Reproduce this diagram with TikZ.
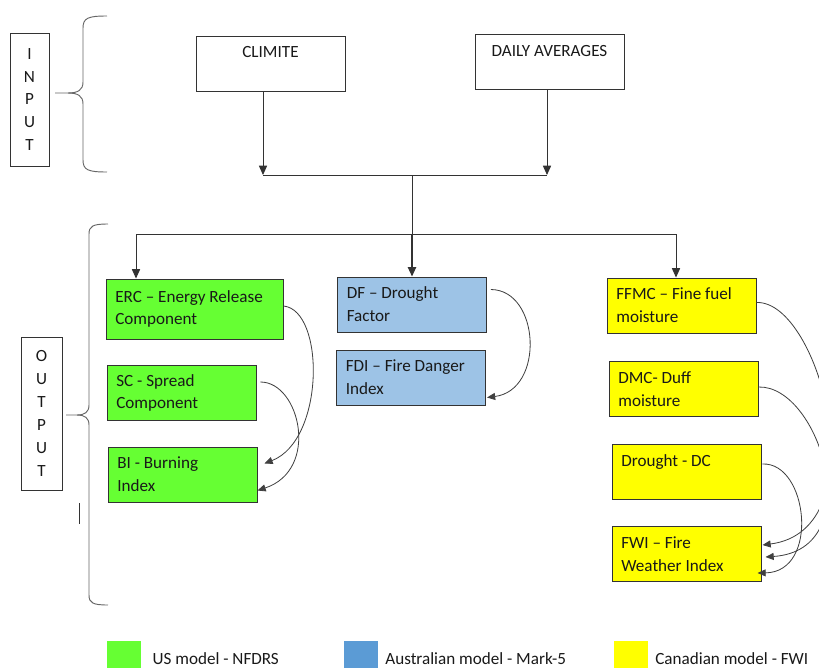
\documentclass[tikz,border=0pt]{standalone}
\usepackage{fontspec}
\setmainfont{Carlito}
\usepackage{xcolor}
\usepackage{tikz}
\usetikzlibrary{arrows.meta}
\usetikzlibrary{positioning}

\definecolor{usgreen}{HTML}{66FF33}
\definecolor{aublue}{HTML}{9DC3E6}
\definecolor{aukey}{HTML}{5B9BD5}
\definecolor{cayellow}{HTML}{FFFF00}
\definecolor{feedgray}{HTML}{404040}

\begin{document}
\begin{tikzpicture}[
    x=0.03cm, y=-0.03cm,
    every node/.style={font=\fontsize{14.6}{19.5}\selectfont, text=black!90},
    box/.style={rectangle, draw=black!80, line width=0.8pt, minimum width=4.47cm,
      minimum height=1.65cm, text width=3.91cm, inner xsep=0.28cm, inner ysep=0pt, align=flush left},
    headbox/.style={box, align=flush center},
    sidebox/.style={rectangle, draw=black!80, line width=0.8pt, align=center, inner sep=0pt},
    usbox/.style={box, fill=usgreen},
    aubox/.style={box, fill=aublue},
    cabox/.style={box, fill=cayellow},
    link/.style={draw=black!80, line width=0.8pt},
    arr/.style={link, -{Triangle[length=8pt, width=7pt]}},
    feed/.style={draw=feedgray, line width=0.7pt, -{Triangle[length=7pt, width=6pt]}},
    brace/.style={draw=black!60, line width=0.8pt},
    key/.style={rectangle, minimum width=1.02cm, minimum height=1.02cm, inner sep=0pt, anchor=north west},
    key text/.style={inner xsep=0pt},
  ]

  \clip (0,0) rectangle (819,667);

  % side labels
  \node[sidebox, minimum width=1.17cm, minimum height=3.99cm] (input) at (29.5,99.5) {I\\N\\P\\U\\T};
  \node[sidebox, minimum width=1.23cm, minimum height=4.59cm] (output) at (41.5,413.5) {O\\U\\T\\P\\U\\T};

  \draw[brace] (107,16) .. controls (88,16) and (83,18) .. (83,28) -- (83,82)
    .. controls (83,90) and (78,93) .. (68,93) -- (55,93);
  \draw[brace] (107,172) .. controls (88,172) and (83,170) .. (83,160) -- (83,104)
    .. controls (83,96) and (78,93) .. (68,93);
  \draw[brace] (108,224) .. controls (93,224) and (89,226) .. (89,234) -- (89,405)
    .. controls (89,412) and (85,415) .. (77,415) -- (66,415);
  \draw[brace] (108,605) .. controls (93,605) and (89,603) .. (89,595) -- (89,425)
    .. controls (89,418) and (85,415) .. (77,415);
  \draw[link] (79,503) -- (79,524);

  % inputs
  \node[headbox] (climite) at (270.5,63.5) {CLIMITE\\\mbox{}};
  \node[headbox] (daily)   at (549.5,62)   {DAILY AVERAGES\\\mbox{}};

  % US model
  \node[usbox, minimum width=5.31cm, minimum height=1.8cm, text width=4.75cm] (erc) at (194.5,309)
    {ERC – Energy Release\\Component};
  \node[usbox] (sc) at (181.5,393)   {SC - Spread\\Component};
  \node[usbox] (bi) at (182.5,474.5) {BI - Burning\\Index};

  % Australian model
  \node[aubox] (df)  at (412,304.5) {DF – Drought\\Factor};
  \node[aubox] (fdi) at (411,377.5) {FDI – Fire Danger\\Index};

  % Canadian model
  \node[cabox] (ffmc) at (681.5,305.5) {FFMC – Fine fuel\\moisture};
  \node[cabox] (dmc)  at (683.5,389)   {DMC- Duff\\moisture};
  \node[cabox] (dc)   at (686.5,471.5) {Drought - DC\\\mbox{}};
  \node[cabox] (fwi)  at (686.5,554)   {FWI – Fire\\Weather Index};

  \coordinate (inl)   at (263,175);
  \coordinate (inr)   at (547,175);
  \coordinate (join)  at (412,175);
  \coordinate (split) at (412,234);
  \coordinate (outl)  at (136,234);
  \coordinate (outr)  at (676,234);

  \draw[arr] (climite.south -| inl) -- (inl);
  \draw[arr] (daily.south -| inr) -- (inr);
  \draw[link] (inl) -- (inr);
  \draw[link] (join) -- (split);
  \draw[link] (outl) -- (outr);
  \draw[arr] (outl) -- (erc.north -| outl);
  \draw[arr, line width=1.2pt] (split) -- (df.north -| split);
  \draw[arr] (outr) -- (ffmc.north -| outr);

  \draw[feed] ([shift={(0,-3)}]erc.east) .. controls (325,310) and (325,440) .. ([shift={(7,-11)}]bi.east);
  \draw[feed] ([shift={(4,-11)}]sc.east) .. controls (300,382) and (320,470) .. ([shift={(0,16)}]bi.east);
  \draw[feed] ([shift={(4,-15)}]df.east) .. controls (540,290) and (545,390) .. ([shift={(1,20)}]fdi.east);
  \draw[feed] ([shift={(0,-3)}]ffmc.east) .. controls (820,300) and (880,530) .. ([shift={(1,-9)}]fwi.east);
  \draw[feed] ([shift={(0,-2)}]dmc.east) .. controls (820,385) and (870,550) .. ([shift={(4,3)}]fwi.east);
  \draw[feed] ([shift={(1,-7.5)}]dc.east) .. controls (808,462) and (820,572) .. ([shift={(-4,19)}]fwi.east);

  % legend
  \node[key, fill=usgreen]  (uskey) at (107,641) {};
  \node[key text, right=0.33cm of uskey] (ustext) {US model - NFDRS};
  \node[key, fill=aukey]    (aukey) at (344,641) {};
  \node[key text, right=0.2cm of aukey] (autext) {Australian model - Mark-5};
  \node[key, fill=cayellow] (cakey) at (614,641) {};
  \node[key text, right=0.2cm of cakey] (catext) {Canadian model - FWI};

\end{tikzpicture}
\end{document}
